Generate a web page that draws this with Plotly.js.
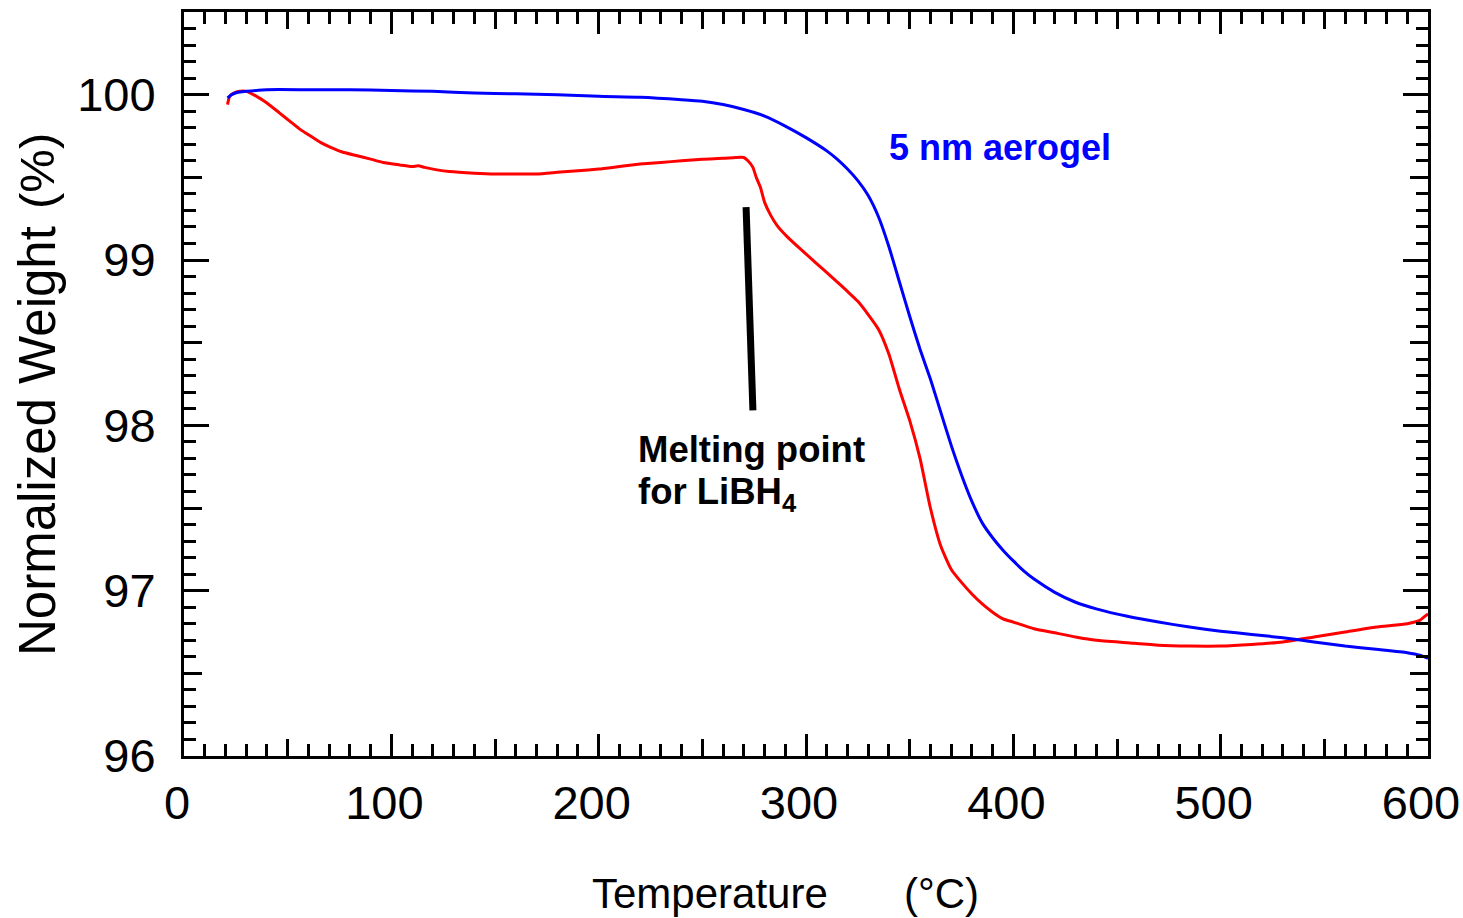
<!DOCTYPE html>
<html>
<head>
<meta charset="utf-8">
<script src="https://cdn.plot.ly/plotly-3.0.1.min.js"></script>
<style>html,body{margin:0;padding:0;background:#fff;}#chart{width:1463px;height:918px;}</style>
</head>
<body>
<div id="chart"></div>
<script>
// Red curve (LiBH4 in aerogel), temperature (°C) and normalized weight (%)
const redTemp = [21, 22, 24, 27, 30, 35, 40, 46, 51, 56, 61, 66, 71, 76, 82, 90, 96, 104, 110, 113, 116, 122, 128, 140, 150, 160, 170, 180, 190, 200, 210, 220, 230, 240, 250, 260, 266, 270, 272, 274.4, 276, 278, 280, 283, 286, 291, 297, 305, 313, 320, 325, 330, 335, 340, 345, 350, 355, 360, 365, 370, 375, 380, 385, 390, 395, 400, 410, 420, 430, 440, 455, 470, 485, 500, 515, 530, 545, 560, 575, 590, 596, 598, 600];
const redWeight = [99.94, 99.99, 100.01, 100.02, 100.02, 99.99, 99.95, 99.89, 99.84, 99.79, 99.75, 99.71, 99.68, 99.655, 99.635, 99.61, 99.59, 99.575, 99.565, 99.57, 99.56, 99.545, 99.535, 99.525, 99.52, 99.52, 99.52, 99.53, 99.54, 99.55, 99.565, 99.58, 99.59, 99.60, 99.61, 99.615, 99.62, 99.62, 99.60, 99.56, 99.50, 99.44, 99.35, 99.27, 99.21, 99.14, 99.07, 98.98, 98.89, 98.81, 98.75, 98.67, 98.58, 98.43, 98.22, 98.03, 97.80, 97.50, 97.27, 97.13, 97.05, 96.98, 96.92, 96.87, 96.83, 96.81, 96.77, 96.745, 96.72, 96.70, 96.685, 96.67, 96.665, 96.665, 96.675, 96.69, 96.72, 96.75, 96.78, 96.80, 96.82, 96.84, 96.86];

// Blue curve (5 nm aerogel)
const blueTemp = [21, 23, 26, 30, 40, 60, 80, 100, 120, 140, 160, 180, 200, 220, 240, 250, 260, 270, 280, 290, 300, 310, 315, 320, 325, 330, 335, 340, 345, 350, 355, 360, 365, 370, 375, 380, 385, 390, 395, 400, 405, 410, 420, 430, 440, 455, 470, 485, 500, 515, 530, 545, 560, 575, 590, 596, 600];
const blueWeight = [99.98, 100.0, 100.015, 100.02, 100.03, 100.03, 100.03, 100.025, 100.02, 100.01, 100.005, 100.0, 99.99, 99.985, 99.97, 99.96, 99.94, 99.91, 99.87, 99.81, 99.74, 99.66, 99.61, 99.55, 99.48, 99.39, 99.26, 99.08, 98.87, 98.66, 98.46, 98.28, 98.08, 97.88, 97.70, 97.54, 97.41, 97.32, 97.245, 97.18, 97.12, 97.07, 96.99, 96.93, 96.89, 96.845, 96.81, 96.78, 96.755, 96.735, 96.715, 96.69, 96.665, 96.645, 96.625, 96.61, 96.59];

// Melting point marker line (data coords)
const meltLineX = [271.1, 274.4];
const meltLineY = [99.32, 98.09];

const xTickVals = [0, 100, 200, 300, 400, 500, 600];
const xTickText = ['0', '100', '200', '300', '400', '500', '600'];
const yTickVals = [96, 97, 98, 99, 100];
const yTickText = ['96', '97', '98', '99', '100'];

const FONT = 'Arial, "Liberation Sans", sans-serif';

const traces = [
  {x: redTemp, y: redWeight, type: 'scatter', mode: 'lines', line: {color: '#ff0000', width: 3, shape: 'spline', smoothing: 0.5}, hoverinfo: 'skip', showlegend: false},
  {x: blueTemp, y: blueWeight, type: 'scatter', mode: 'lines', line: {color: '#0000ff', width: 3, shape: 'spline', smoothing: 0.5}, hoverinfo: 'skip', showlegend: false, xaxis: 'x2', yaxis: 'y2'}
];

const X0 = 184, X1 = 1428, Y0 = 12, Y1 = 756;
const W = X1 - X0, H = Y1 - Y0;
function px(xp) { return (xp - X0) / W; }
function py(yp) { return (Y1 - yp) / H; }

const layout = {
  width: 1463, height: 918,
  margin: {l: X0, r: 1463 - X1, t: Y0, b: 918 - Y1, pad: 0},
  paper_bgcolor: '#fff', plot_bgcolor: '#fff',
  font: {family: FONT, color: '#000'},
  xaxis: {
    range: [0, 600], tickmode: 'array', tickvals: xTickVals, ticktext: xTickText,
    ticks: 'inside', ticklen: 22, tickwidth: 3, tickcolor: '#000',
    showline: true, linewidth: 3, linecolor: '#000', mirror: 'ticks',
    showgrid: false, zeroline: false, tickfont: {size: 47, family: FONT, color: '#000'},
    ticklabelstandoff: 4, ticklabelshift: -7, ticklabeloverflow: 'allow',
    minor: {dtick: 10, ticks: 'inside', ticklen: 12, tickwidth: 3, tickcolor: '#000', showgrid: false}
  },
  yaxis: {
    range: [96, 100.5], tickmode: 'array', tickvals: yTickVals, ticktext: yTickText,
    ticks: 'inside', ticklen: 25, tickwidth: 3, tickcolor: '#000',
    showline: true, linewidth: 3, linecolor: '#000', mirror: 'ticks',
    showgrid: false, zeroline: false, tickfont: {size: 47, family: FONT, color: '#000'},
    ticklabelstandoff: 16, ticklabeloverflow: 'allow',
    minor: {dtick: 0.1, tick0: 96, ticks: 'inside', ticklen: 12, tickwidth: 3, tickcolor: '#000', showgrid: false}
  },
  xaxis2: {
    overlaying: 'x', range: [0, 600], tick0: 0, dtick: 50, ticks: 'inside', ticklen: 17, tickwidth: 3, tickcolor: '#000',
    showticklabels: false, showline: true, linewidth: 3, linecolor: '#000', mirror: 'ticks', side: 'bottom',
    showgrid: false, zeroline: false
  },
  yaxis2: {
    overlaying: 'y', range: [96, 100.5], tick0: 96, dtick: 0.5, ticks: 'inside', ticklen: 18, tickwidth: 3, tickcolor: '#000',
    showticklabels: false, showline: true, linewidth: 3, linecolor: '#000', mirror: 'ticks', side: 'left',
    showgrid: false, zeroline: false
  },
  shapes: [
    {type: 'line', xref: 'x', yref: 'y', x0: meltLineX[0], y0: meltLineY[0], x1: meltLineX[1], y1: meltLineY[1], line: {color: '#000', width: 7}}
  ],
  annotations: [
    {xref: 'paper', yref: 'paper', x: px(710), y: py(893), text: 'Temperature', showarrow: false, xanchor: 'center', yanchor: 'middle', font: {size: 42, family: FONT, color: '#000'}},
    {xref: 'paper', yref: 'paper', x: px(941), y: py(893), text: '(°C)', showarrow: false, xanchor: 'center', yanchor: 'middle', font: {size: 42, family: FONT, color: '#000'}},
    {xref: 'paper', yref: 'paper', x: px(37), y: py(441), text: 'Normalized Weight', showarrow: false, textangle: -90, xanchor: 'center', yanchor: 'middle', font: {size: 51, family: FONT, color: '#000'}},
    {xref: 'paper', yref: 'paper', x: px(37), y: py(171), text: '(%)', showarrow: false, textangle: -90, xanchor: 'center', yanchor: 'middle', font: {size: 49, family: FONT, color: '#000'}},
    {xref: 'paper', yref: 'paper', x: px(887), y: py(148), text: '<b>5 nm aerogel</b>', showarrow: false, xanchor: 'left', yanchor: 'middle', font: {size: 36, family: FONT, color: '#0000ff'}},
    {xref: 'paper', yref: 'paper', x: px(636), y: py(450), text: '<b>Melting point</b>', showarrow: false, xanchor: 'left', yanchor: 'middle', font: {size: 36.5, family: FONT, color: '#000'}},
    {xref: 'paper', yref: 'paper', x: px(636), y: py(494), text: '<b>for LiBH<sub>4</sub></b>', showarrow: false, xanchor: 'left', yanchor: 'middle', font: {size: 36.5, family: FONT, color: '#000'}}
  ]
};

Plotly.newPlot('chart', traces, layout, {staticPlot: true, displayModeBar: false});
</script>
</body>
</html>
